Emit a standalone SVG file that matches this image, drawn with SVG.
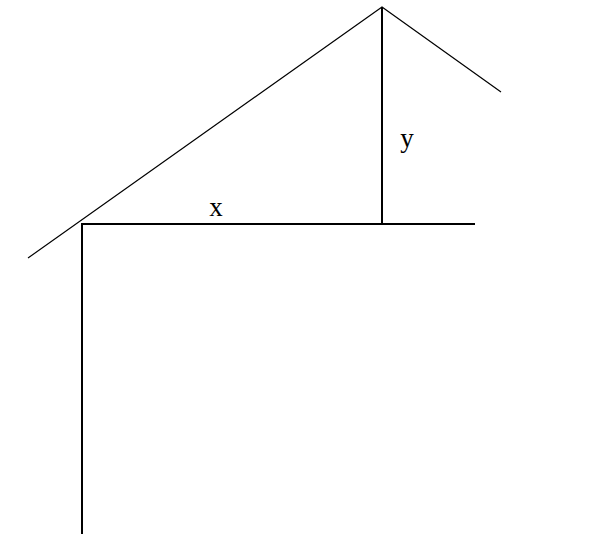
<svg xmlns="http://www.w3.org/2000/svg" width="603" height="536" viewBox="0 0 603 536">
<style>
.thin{stroke:#000;stroke-width:1.2;fill:none}
.thick{stroke:#000;stroke-width:2;fill:none}
.lbl{font-family:"Liberation Serif",serif;font-size:27px;fill:#000}
</style>
<rect width="603" height="536" fill="#fff"/>
<g id="connectors">
<polyline class="thin" points="28,258 382,7 501,92"/>
<line class="thick" x1="382" y1="7" x2="382" y2="224"/>
<line class="thick" x1="82" y1="224" x2="475" y2="224"/>
<line class="thick" x1="82" y1="223" x2="82" y2="534"/>
</g>
<g id="labels">
<text class="lbl" x="216" y="216" text-anchor="middle">x</text>
<text class="lbl" x="407" y="147" text-anchor="middle">y</text>
</g>
</svg>
